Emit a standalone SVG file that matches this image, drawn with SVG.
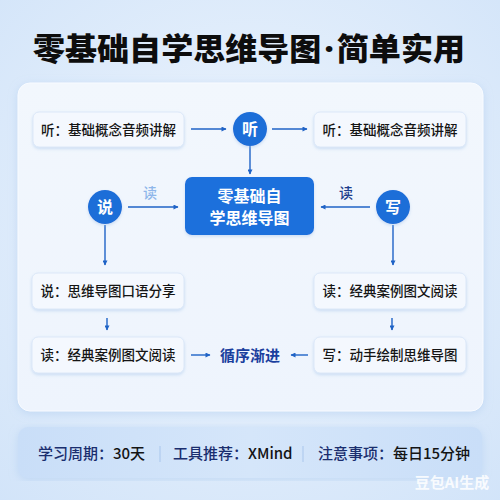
<svg xmlns="http://www.w3.org/2000/svg" width="500" height="500" viewBox="0 0 500 500">
<defs>
  <radialGradient id="bg" cx="50%" cy="45%" r="75%">
    <stop offset="0" stop-color="#eef5fd"/>
    <stop offset="1" stop-color="#d2e4f9"/>
  </radialGradient>
  <linearGradient id="panel" x1="0" y1="0" x2="0" y2="1">
    <stop offset="0" stop-color="#f2f7fd"/>
    <stop offset="1" stop-color="#eef4fd"/>
  </linearGradient>
  <linearGradient id="foot" x1="0" y1="0" x2="1" y2="0">
    <stop offset="0" stop-color="#c9def8"/>
    <stop offset="0.5" stop-color="#d5e6fa"/>
    <stop offset="1" stop-color="#c9def8"/>
  </linearGradient>
  <filter id="sh" x="-10%" y="-20%" width="120%" height="150%">
    <feDropShadow dx="0" dy="1.5" stdDeviation="1.5" flood-color="#9cbfe8" flood-opacity="0.45"/>
  </filter>
  <filter id="psh" x="-5%" y="-5%" width="110%" height="110%">
    <feDropShadow dx="0" dy="2" stdDeviation="4" flood-color="#a9c8ee" flood-opacity="0.5"/>
  </filter>
  <marker id="ah" viewBox="0 0 10 10" refX="9" refY="5" markerWidth="6" markerHeight="5" markerUnits="userSpaceOnUse" orient="auto">
    <path d="M0,0 L10,5 L0,10 z" fill="#1f63c6"/>
  </marker>
  <style>
    text { font-family: "Noto Sans CJK SC", "Noto Sans", sans-serif; }
    .box { fill: #f4f8fe; stroke: #dce8f8; stroke-width: 1; filter: url(#sh); }
    .lbl { font-size: 13.5px; font-weight: 500; fill: #151515; text-anchor: middle; }
    .circ { fill: #1a6ed8; filter: url(#sh); }
    .ctxt { font-size: 16px; font-weight: bold; fill: #ffffff; text-anchor: middle; }
    .con { stroke: #1f63c6; stroke-width: 1.4; fill: none; marker-end: url(#ah); }
    .ft { font-size: 15px; font-weight: 500; }
    .fk { fill: #1a2e6e; }
    .fv { fill: #141414; }
  </style>
</defs>
<rect width="500" height="500" fill="url(#bg)"/>
<text x="249" y="60" font-size="31" font-weight="900" fill="#0d0d0d" text-anchor="middle" textLength="432" lengthAdjust="spacingAndGlyphs">零基础自学思维导图<tspan dx="3" font-family="'Noto Sans', sans-serif" font-weight="900">·</tspan><tspan dx="3">简单实用</tspan></text>

<rect x="18" y="83" width="465" height="328" rx="12" fill="url(#panel)" stroke="#f8fbff" stroke-width="1" filter="url(#psh)"/>

<g id="connectors">
  <line class="con" x1="191" y1="129" x2="226" y2="129"/>
  <line class="con" x1="272" y1="129" x2="307" y2="129"/>
  <line class="con" x1="250" y1="146" x2="250" y2="174"/>
  <line class="con" x1="128" y1="207" x2="178" y2="207"/>
  <line class="con" x1="370" y1="207" x2="321" y2="207"/>
  <line class="con" x1="105" y1="225" x2="105" y2="265"/>
  <line class="con" x1="393" y1="225" x2="393" y2="265"/>
  <line class="con" x1="107" y1="318" x2="107" y2="330"/>
  <line class="con" x1="392" y1="318" x2="392" y2="330"/>
  <line class="con" x1="191" y1="355" x2="210" y2="355"/>
  <line class="con" x1="308" y1="355" x2="291" y2="355"/>
  <text x="150" y="198" font-size="14" font-weight="500" fill="#8fb6ea" text-anchor="middle">读</text>
  <text x="346" y="198" font-size="14" font-weight="500" fill="#1d3d8c" text-anchor="middle">读</text>
</g>

<g id="n-listen-left">
  <rect class="box" x="33" y="112" width="151" height="35" rx="6"/>
  <text class="lbl" x="108.5" y="134.5">听：基础概念音频讲解</text>
</g>
<g id="n-listen-right">
  <rect class="box" x="314" y="112" width="152" height="35" rx="6"/>
  <text class="lbl" x="390" y="134.5">听：基础概念音频讲解</text>
</g>
<g id="c-listen">
  <circle class="circ" cx="250" cy="129" r="17"/>
  <text class="ctxt" x="250" y="134.5">听</text>
</g>
<g id="center">
  <rect x="185" y="177" width="129" height="58" rx="7" fill="#1b6fdc" filter="url(#sh)"/>
  <text x="249.5" y="202" font-size="16" font-weight="bold" fill="#ffffff" text-anchor="middle">零基础自</text>
  <text x="249.5" y="224" font-size="16" font-weight="bold" fill="#ffffff" text-anchor="middle">学思维导图</text>
</g>
<g id="c-speak">
  <circle class="circ" cx="105" cy="207" r="17"/>
  <text class="ctxt" x="105" y="212.5">说</text>
</g>
<g id="c-write">
  <circle class="circ" cx="393" cy="207" r="17"/>
  <text class="ctxt" x="393" y="212.5">写</text>
</g>
<g id="n-speak">
  <rect class="box" x="32" y="273" width="152" height="36" rx="6"/>
  <text class="lbl" x="108" y="296">说：思维导图口语分享</text>
</g>
<g id="n-read-right">
  <rect class="box" x="314" y="273" width="152" height="36" rx="6"/>
  <text class="lbl" x="390" y="296">读：经典案例图文阅读</text>
</g>
<g id="n-read-left">
  <rect class="box" x="32" y="337" width="152" height="36" rx="6"/>
  <text class="lbl" x="108" y="360">读：经典案例图文阅读</text>
</g>
<g id="n-write">
  <rect class="box" x="314" y="337" width="152" height="36" rx="6"/>
  <text class="lbl" x="390" y="360">写：动手绘制思维导图</text>
</g>
<g id="n-progress">
  <text x="250" y="361" font-size="15" font-weight="bold" fill="#1a3f9e" text-anchor="middle">循序渐进</text>
</g>

<g id="footer">
  <rect x="18" y="427" width="464" height="51" rx="10" fill="url(#foot)" filter="url(#psh)"/>
  <text class="ft" x="38" y="459"><tspan class="fk">学习周期：</tspan><tspan class="fv">30天</tspan></text>
  <line x1="160" y1="446" x2="160" y2="462" stroke="#a9c6ec" stroke-width="1"/>
  <text class="ft" x="173" y="459"><tspan class="fk">工具推荐：</tspan><tspan class="fv">XMind</tspan></text>
  <line x1="303" y1="446" x2="303" y2="462" stroke="#a9c6ec" stroke-width="1"/>
  <text class="ft" x="318" y="459"><tspan class="fk">注意事项：</tspan><tspan class="fv">每日15分钟</tspan></text>
</g>
<text x="452" y="488" font-size="15" font-weight="bold" fill="#ffffff" fill-opacity="0.85" text-anchor="middle">豆包AI生成</text>
</svg>
